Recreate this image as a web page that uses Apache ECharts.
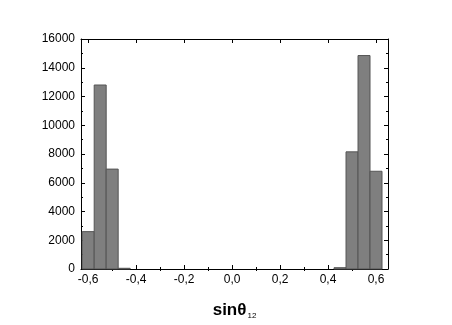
<!DOCTYPE html>
<html>
<head>
<meta charset="utf-8">
<script src="https://cdn.jsdelivr.net/npm/echarts@6/dist/echarts.min.js"></script>
<style>
html,body{margin:0;padding:0;background:#fff;}
#chart{width:452px;height:325px;}
</style>
</head>
<body>
<div id="chart"></div>
<script>
// Histogram data (bin centers, bin width 0.05)
var binCenters = [-0.6, -0.55, -0.5, -0.45, 0.45, 0.5, 0.55, 0.6];
var counts = [2600, 12800, 6950, 50, 90, 8150, 14850, 6800];
var binWidth = 0.05;
var xMajorTicks = [-0.6, -0.4, -0.2, 0.0, 0.2, 0.4, 0.6];
var xMinorTicks = [-0.5, -0.3, -0.1, 0.1, 0.3, 0.5];

var XMIN = -0.63, XMAX = 0.65;
var font = 'Liberation Sans, Arial, sans-serif';

var chart = echarts.init(document.getElementById('chart'), null, {renderer: 'canvas'});

var data = binCenters.map(function (c, i) { return [c - binWidth / 2, c + binWidth / 2, counts[i]]; });

function fmt(v) {
  return (Math.round(v * 10) / 10).toFixed(1).replace('.', ',');
}

var option = {
  animation: false,
  backgroundColor: '#ffffff',
  grid: {left: 81, right: 64, top: 39, bottom: 54, show: false},
  xAxis: [
    {
      type: 'value', position: 'bottom', min: XMIN, max: XMAX,
      axisLine: {show: true, onZero: false, lineStyle: {color: '#000', width: 1}},
      axisTick: {show: true, inside: true, length: 4, customValues: xMajorTicks, lineStyle: {color: '#000'}},
      axisLabel: {show: true, customValues: xMajorTicks, formatter: fmt, color: '#000', fontSize: 12, fontFamily: font, margin: 5},
      splitLine: {show: false},
      name: '{a|sinθ}{b|12}', nameLocation: 'middle', nameGap: 31,
      nameTextStyle: {rich: {
        a: {fontSize: 17, fontWeight: 'bold', color: '#000', fontFamily: font},
        b: {fontSize: 8, color: '#000', fontFamily: font, padding: [12, 0, 0, 1]}
      }}
    },
    {
      type: 'value', position: 'bottom', min: XMIN, max: XMAX, gridIndex: 0,
      axisLine: {show: false},
      axisTick: {show: true, inside: true, length: 2, customValues: xMinorTicks, lineStyle: {color: '#000'}},
      axisLabel: {show: false}, splitLine: {show: false}
    },
    {
      type: 'value', position: 'top', min: XMIN, max: XMAX,
      axisLine: {show: true, onZero: false, lineStyle: {color: '#000', width: 1}},
      axisTick: {show: true, inside: true, length: 4, customValues: xMajorTicks, lineStyle: {color: '#000'}},
      axisLabel: {show: false}, splitLine: {show: false}
    },
    {
      type: 'value', position: 'top', min: XMIN, max: XMAX,
      axisLine: {show: false},
      axisTick: {show: true, inside: true, length: 2, customValues: xMinorTicks, lineStyle: {color: '#000'}},
      axisLabel: {show: false}, splitLine: {show: false}
    }
  ],
  yAxis: [
    {
      type: 'value', position: 'left', min: 0, max: 16000, interval: 2000,
      axisLine: {show: true, onZero: false, lineStyle: {color: '#000', width: 1}},
      axisTick: {show: true, inside: true, length: 4, lineStyle: {color: '#000'}},
      minorTick: {show: true, splitNumber: 2, length: 2, lineStyle: {color: '#000'}},
      axisLabel: {show: true, color: '#000', fontSize: 12, fontFamily: font, margin: 6,
        formatter: function (v) { return String(v); }},
      splitLine: {show: false}
    },
    {
      type: 'value', position: 'right', min: 0, max: 16000, interval: 2000,
      axisLine: {show: true, onZero: false, lineStyle: {color: '#000', width: 1}},
      axisTick: {show: true, inside: true, length: 4, lineStyle: {color: '#000'}},
      minorTick: {show: true, splitNumber: 2, length: 2, lineStyle: {color: '#000'}},
      axisLabel: {show: false},
      splitLine: {show: false}
    }
  ],
  series: [{
    type: 'custom',
    xAxisIndex: 0, yAxisIndex: 0,
    data: data,
    encode: {x: [0, 1], y: 2},
    renderItem: function (params, api) {
      var p0 = api.coord([api.value(0), api.value(2)]);
      var p1 = api.coord([api.value(1), 0]);
      return {
        type: 'rect',
        shape: {x: p0[0], y: p0[1], width: p1[0] - p0[0], height: p1[1] - p0[1]},
        style: {fill: '#7f7f7f', stroke: '#555555', lineWidth: 1}
      };
    }
  }]
};
chart.setOption(option);
</script>
</body>
</html>
